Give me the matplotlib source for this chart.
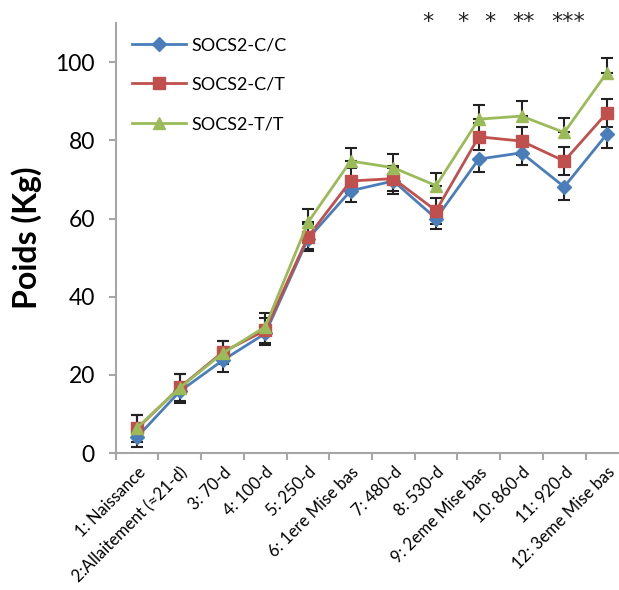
import matplotlib
matplotlib.use("Agg")
import numpy as np
import matplotlib.pyplot as plt

plt.rcParams['font.family'] = ['Lato', 'DejaVu Sans']

# categories on the x axis
stages = ['1: Naissance', '2:Allaitement (≈21-d)', '3: 70-d', '4: 100-d', '5: 250-d',
          '6: 1ere Mise bas', '7: 480-d', '8: 530-d', '9: 2eme Mise bas',
          '10: 860-d', '11: 920-d', '12: 3eme Mise bas']

# mean weights (Kg)
cc = [4.1, 15.8, 23.7, 30.6, 54.8, 67.1, 69.6, 60.0, 75.2, 76.8, 68.1, 81.6]
ct = [6.3, 16.8, 25.8, 31.4, 55.3, 69.6, 70.2, 62.0, 80.9, 79.8, 74.7, 87.0]
tt = [6.5, 16.7, 25.5, 32.3, 59.0, 74.7, 73.0, 68.4, 85.4, 86.2, 82.0, 97.3]

# error bars
cc_err = [2.5, 3.0, 3.0, 3.0, 3.0, 2.8, 3.3, 2.6, 3.2, 3.1, 3.3, 3.6]
ct_err = [3.4, 3.4, 3.0, 3.2, 3.2, 3.2, 3.2, 3.3, 3.4, 3.6, 3.5, 3.6]
tt_err = [3.3, 3.6, 3.3, 3.6, 3.5, 3.3, 3.5, 3.3, 3.6, 3.8, 3.7, 3.7]

# significance marks
stars = ['*', '*', '*', '**', '***']
star_x = [6.82, 7.62, 8.27, 9.04, 10.09]

fig = plt.figure(figsize=(6.19, 5.9), dpi=100)
ax = fig.add_axes([0.187, 0.232, 0.828, 0.729])

x = np.arange(len(stages))
blue, red, green = '#4A7EBB', '#C0504D', '#9BBB59'

# error bars (blue: minus only, green: plus only, red: both)
ax.errorbar(x, cc, yerr=[cc_err, np.zeros(len(x))], fmt='none', ecolor='#222222',
            elinewidth=1.5, capsize=4, capthick=1.5, zorder=2)
ax.errorbar(x, ct, yerr=ct_err, fmt='none', ecolor='#222222',
            elinewidth=1.5, capsize=4, capthick=1.5, zorder=2)
ax.errorbar(x, tt, yerr=[np.zeros(len(x)), tt_err], fmt='none', ecolor='#222222',
            elinewidth=1.5, capsize=4, capthick=1.5, zorder=2)

ax.plot(x, cc, color=blue, marker='D', markersize=7, lw=2, label='SOCS2-C/C', zorder=3)
ax.plot(x, ct, color=red, marker='s', markersize=8, lw=2, label='SOCS2-C/T', zorder=4)
ax.plot(x, tt, color=green, marker='^', markersize=9, lw=2, label='SOCS2-T/T', zorder=5)

for s, sx in zip(stars, star_x):
    ax.text(sx, 110.2, s, ha='center', va='center', fontsize=16, color='#222222',
            family='DejaVu Sans', clip_on=False)

ax.set_xlim(-0.5, 11.5)
ax.set_ylim(0, 110)
ax.set_yticks([0, 20, 40, 60, 80, 100])
ax.set_xticks(x)
ax.set_xticklabels(stages, rotation=45, ha='right', rotation_mode='anchor', fontsize=12)
ax.set_xticks(np.arange(-0.5, 11.6, 1), minor=True)
ax.tick_params(axis='x', which='major', length=0, pad=8)
ax.tick_params(axis='x', which='minor', length=5, width=1.5, color='#a6a6a6')
ax.tick_params(axis='y', length=5, width=1.5, color='#a6a6a6', labelsize=16.5, pad=10)

for side in ['top', 'right']:
    ax.spines[side].set_visible(False)
for side in ['left', 'bottom']:
    ax.spines[side].set_color('#a6a6a6')
    ax.spines[side].set_linewidth(1.5)

ax.set_ylabel('Poids (Kg)', fontsize=23, fontweight='bold', labelpad=10)

ax.legend(loc='upper left', bbox_to_anchor=(0.0, 1.005), frameon=False, fontsize=13,
          handlelength=3.0, labelspacing=1.3, handletextpad=0.3)

fig.savefig('out.png', dpi=100)
